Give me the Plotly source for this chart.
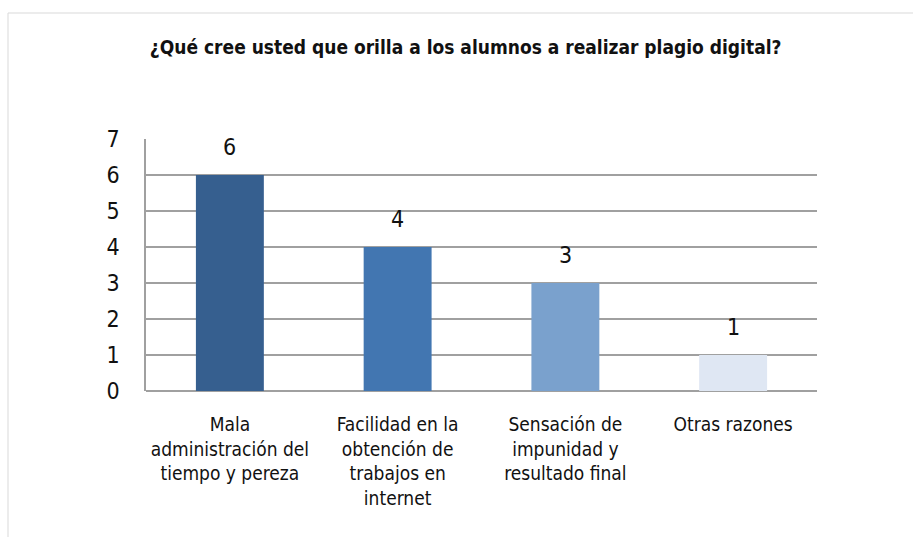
import plotly.graph_objects as go

categories = [
    "Mala<br>administración del<br>tiempo y pereza",
    "Facilidad en la<br>obtención de<br>trabajos en<br>internet",
    "Sensación de<br>impunidad y<br>resultado final",
    "Otras razones",
]
values = [6, 4, 3, 1]
bar_colors = ["#365F8F", "#4276B1", "#7AA1CD", "#DFE7F3"]
y_ticks = [0, 1, 2, 3, 4, 5, 6, 7]
title_text = "¿Qué cree usted que orilla a los alumnos a realizar plagio digital?"

FONT = "Liberation Sans Narrow, DejaVu Sans Condensed, Roboto Condensed, Arial Narrow, sans-serif"

fig = go.Figure(
    go.Bar(
        x=categories,
        y=values,
        marker=dict(color=bar_colors, line=dict(width=0)),
        width=0.405,
    )
)

for c, v in zip(categories, values):
    fig.add_annotation(
        x=c,
        y=v,
        xref="x",
        yref="y",
        text=str(v),
        showarrow=False,
        yanchor="bottom",
        yshift=13,
        font=dict(size=23, color="#111111", family=FONT),
    )

fig.update_layout(
    width=913,
    height=537,
    margin=dict(l=146, r=96, t=139, b=146),
    paper_bgcolor="white",
    plot_bgcolor="white",
    showlegend=False,
    font=dict(family=FONT, color="#111111"),
    title=dict(
        text="<b>" + title_text + "</b>",
        x=0.51,
        xanchor="center",
        y=1 - 47 / 537,
        yanchor="middle",
        font=dict(size=19, family=FONT, color="#111111"),
    ),
    xaxis=dict(
        showgrid=False,
        showline=False,
        ticks="",
        tickfont=dict(size=19, family=FONT, color="#111111"),
        tickangle=0,
        ticklabelstandoff=20,
    ),
    yaxis=dict(
        range=[0, 7],
        tickvals=y_ticks,
        showgrid=True,
        gridcolor="#A0A0A0",
        gridwidth=1.5,
        zeroline=True,
        zerolinecolor="#A0A0A0",
        zerolinewidth=1.5,
        showline=True,
        linecolor="#A0A0A0",
        linewidth=1.5,
        ticks="",
        tickfont=dict(size=23, family=FONT, color="#111111"),
        ticklabelstandoff=20,
    ),
    shapes=[
        dict(
            type="rect",
            xref="paper",
            yref="paper",
            x0=(8 - 146) / 671,
            x1=(930 - 146) / 671,
            y0=(391 - 560) / 252,
            y1=(391 - 13) / 252,
            line=dict(color="#D9D9D9", width=1),
            fillcolor="rgba(0,0,0,0)",
            layer="below",
        )
    ],
)

fig.write_html(
    "out.html",
    config={"displayModeBar": False},
    post_script="document.body.style.margin='0';document.body.style.overflow='hidden';",
)
